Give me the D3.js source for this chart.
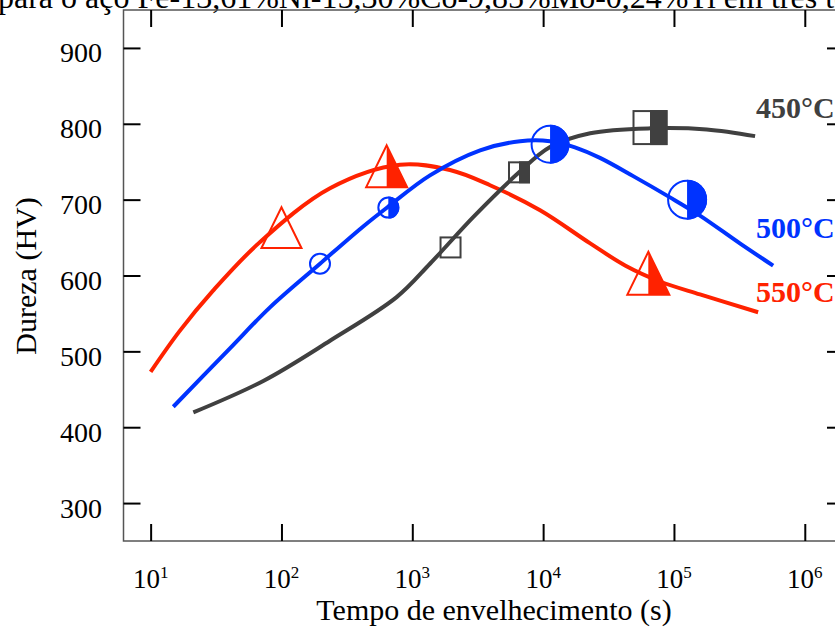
<!DOCTYPE html>
<html>
<head>
<meta charset="utf-8">
<script src="https://cdn.jsdelivr.net/npm/d3@7"></script>
<style>
  html, body { margin: 0; padding: 0; background: #fff; overflow: hidden; }
  svg { display: block; }
</style>
</head>
<body>
<script>
// ---------------- data ----------------
const titleText = "para o aço Fe-13,61%Ni-15,30%Co-9,85%Mo-0,24%Ti em três temperaturas";
const xTickValues = [1e1, 1e2, 1e3, 1e4, 1e5, 1e6];
const xTickExponents = ["1", "2", "3", "4", "5", "6"];
const yTickValues = [300, 400, 500, 600, 700, 800, 900];
const xLabel = "Tempo de envelhecimento (s)";
const yLabel = "Dureza (HV)";

// 550 °C curve
const time550 = [10, 16.7, 30, 68.4, 235, 804, 1940, 3930, 9480, 22900, 42300, 78300, 158000, 440000];
const hv550   = [473, 527, 580, 644, 715, 746, 739, 719, 686, 642.3, 613.3, 592.1, 575, 551.6];
// 500 °C curve
const time500 = [14.9, 40.4, 81.7, 197, 417, 646, 1365, 3300, 6670, 11300, 17500, 27200, 48800, 93300, 158000, 321000, 573000];
const hv500   = [427, 504, 558, 615.5, 664, 690, 732, 765, 777, 777, 769, 755, 731, 703, 679, 642, 613];
// 450 °C curve
const time450 = [21.2, 72.6, 235, 759, 1365, 2920, 6550, 11300, 22900, 66100, 178000, 417000];
const hv450   = [419.5, 461, 514, 571.5, 615.5, 677, 736, 769.5, 787.6, 794, 792.5, 783.7];

// measured points (markers)
const mark550Time = [100, 637, 63700];
const mark550HV   = [663, 744, 603];
const mark550Kind = ["open", "half", "half"];
const mark550Size = [40, 41, 42];

const mark500Time = [197, 656, 11300, 126000];
const mark500HV   = [615.5, 689.5, 773, 700];
const mark500Kind = ["open", "half", "half", "half"];
const mark500Size = [22, 22, 39, 40];

const mark450Time = [1960, 6540, 65600];
const mark450HV   = [637, 736, 795];
const mark450Kind = ["open", "half", "half"];
const mark450Size = [22, 22, 35];

const seriesNames = ["450°C", "500°C", "550°C"];

// ---------------- layout ----------------
const W = 835, H = 633;
const plot = { left: 123.5, right: 844, top: 10, bottom: 541 };
const colors = { c450: "#404040", c500: "#0033ff", c550: "#ff2200" };
const serif = "'Liberation Serif', 'Times New Roman', serif";
const seriesLabelY = [118, 238, 302];

const svg = d3.select("body").append("svg").attr("width", W).attr("height", H);

const x = d3.scaleLog().domain([Math.pow(10, 0.7926), Math.pow(10, 6.2997)]).range([plot.left, plot.right]);
const y = d3.scaleLinear().domain([250, 950]).range([plot.bottom, plot.top]);

// title (cut off at top as in the source figure)
svg.append("text").attr("x", -2).attr("y", 8)
  .attr("font-family", serif).attr("font-size", 32).attr("fill", "#000")
  .text(titleText);

// frame
svg.append("rect")
  .attr("x", plot.left).attr("y", plot.top)
  .attr("width", plot.right - plot.left).attr("height", plot.bottom - plot.top)
  .attr("fill", "none").attr("stroke", "#555").attr("stroke-width", 1.5);

const tickLen = 17;
const gxb = svg.append("g").attr("transform", `translate(0,${plot.bottom})`)
  .call(d3.axisBottom(x).tickValues(xTickValues).tickSize(-tickLen).tickFormat(""));
const gxt = svg.append("g").attr("transform", `translate(0,${plot.top})`)
  .call(d3.axisTop(x).tickValues(xTickValues).tickSize(-tickLen).tickFormat(""));
const gyl = svg.append("g").attr("transform", `translate(${plot.left},0)`)
  .call(d3.axisLeft(y).tickValues(yTickValues).tickSize(-tickLen).tickFormat(""));
const gyr = svg.append("g").attr("transform", `translate(${plot.right},0)`)
  .call(d3.axisRight(y).tickValues(yTickValues).tickSize(-tickLen).tickFormat(""));
[gxb, gxt, gyl, gyr].forEach(g => {
  g.select(".domain").remove();
  g.selectAll(".tick line").attr("stroke", "#000").attr("stroke-width", 2);
});

// x tick labels with superscripts
xTickValues.forEach((v, i) => {
  const t = svg.append("text")
    .attr("x", x(v)).attr("y", 588)
    .attr("text-anchor", "middle")
    .attr("font-family", serif).attr("font-size", 27).attr("fill", "#000");
  t.append("tspan").text("10");
  t.append("tspan").attr("font-size", 17).attr("dy", -10).text(xTickExponents[i]);
});
// y tick labels
yTickValues.forEach(v => {
  svg.append("text")
    .attr("x", 102).attr("y", y(v) + 14.5)
    .attr("text-anchor", "end")
    .attr("font-family", serif).attr("font-size", 28).attr("fill", "#000")
    .text(v);
});

// axis titles
svg.append("text")
  .attr("x", 494).attr("y", 620).attr("text-anchor", "middle")
  .attr("font-family", serif).attr("font-size", 30).attr("fill", "#000")
  .text(xLabel);
svg.append("text")
  .attr("transform", `translate(36,276) rotate(-90)`)
  .attr("text-anchor", "middle")
  .attr("font-family", serif).attr("font-size", 30).attr("fill", "#000")
  .text(yLabel);

// curves
const line = d3.line().x(d => x(d[0])).y(d => y(d[1])).curve(d3.curveCatmullRom.alpha(0.5));
function drawCurve(ts, vs, color, w) {
  svg.append("path")
    .datum(ts.map((t, i) => [t, vs[i]]))
    .attr("d", line)
    .attr("fill", "none").attr("stroke", color).attr("stroke-width", w)
    .attr("stroke-linejoin", "round");
}
drawCurve(time550, hv550, colors.c550, 4);
drawCurve(time500, hv500, colors.c500, 4);
drawCurve(time450, hv450, colors.c450, 4);

// markers
function drawTriangles(ts, vs, kinds, sizes, color) {
  ts.forEach((t, i) => {
    const cx = x(t), cy = y(vs[i]), s = sizes[i];
    const h = s * 1.02;
    const top = cy - h / 2, base = cy + h / 2;
    if (kinds[i] === "half") {
      svg.append("path")
        .attr("d", `M${cx},${top}L${cx + s / 2},${base}L${cx},${base}Z`)
        .attr("fill", color).attr("stroke", "none");
    }
    svg.append("path")
      .attr("d", `M${cx},${top}L${cx + s / 2},${base}L${cx - s / 2},${base}Z`)
      .attr("fill", "none").attr("stroke", color).attr("stroke-width", 2);
  });
}
function drawCircles(ts, vs, kinds, sizes, color) {
  ts.forEach((t, i) => {
    const cx = x(t), cy = y(vs[i]), r = sizes[i] / 2;
    if (kinds[i] === "half") {
      const arc = d3.arc().innerRadius(0).outerRadius(r).startAngle(0).endAngle(Math.PI);
      svg.append("path").attr("transform", `translate(${cx},${cy})`)
        .attr("d", arc()).attr("fill", color);
    }
    svg.append("circle").attr("cx", cx).attr("cy", cy).attr("r", r - 1)
      .attr("fill", "none").attr("stroke", color).attr("stroke-width", 2);
  });
}
function drawSquares(ts, vs, kinds, sizes, color) {
  ts.forEach((t, i) => {
    const cx = x(t), cy = y(vs[i]), s = sizes[i];
    if (kinds[i] === "half") {
      svg.append("rect").attr("x", cx).attr("y", cy - s / 2)
        .attr("width", s / 2).attr("height", s).attr("fill", color);
    }
    svg.append("rect").attr("x", cx - s / 2 + 1).attr("y", cy - s / 2 + 1)
      .attr("width", s - 2).attr("height", s - 2)
      .attr("fill", "none").attr("stroke", color).attr("stroke-width", 2);
  });
}
drawTriangles(mark550Time, mark550HV, mark550Kind, mark550Size, colors.c550);
drawCircles(mark500Time, mark500HV, mark500Kind, mark500Size, colors.c500);
drawSquares(mark450Time, mark450HV, mark450Kind, mark450Size, colors.c450);

// series labels
const labelColors = [colors.c450, colors.c500, colors.c550];
seriesNames.forEach((n, i) => {
  svg.append("text")
    .attr("x", 756).attr("y", seriesLabelY[i])
    .attr("font-family", serif).attr("font-size", 30).attr("font-weight", "bold")
    .attr("fill", labelColors[i])
    .text(n);
});
</script>
</body>
</html>
